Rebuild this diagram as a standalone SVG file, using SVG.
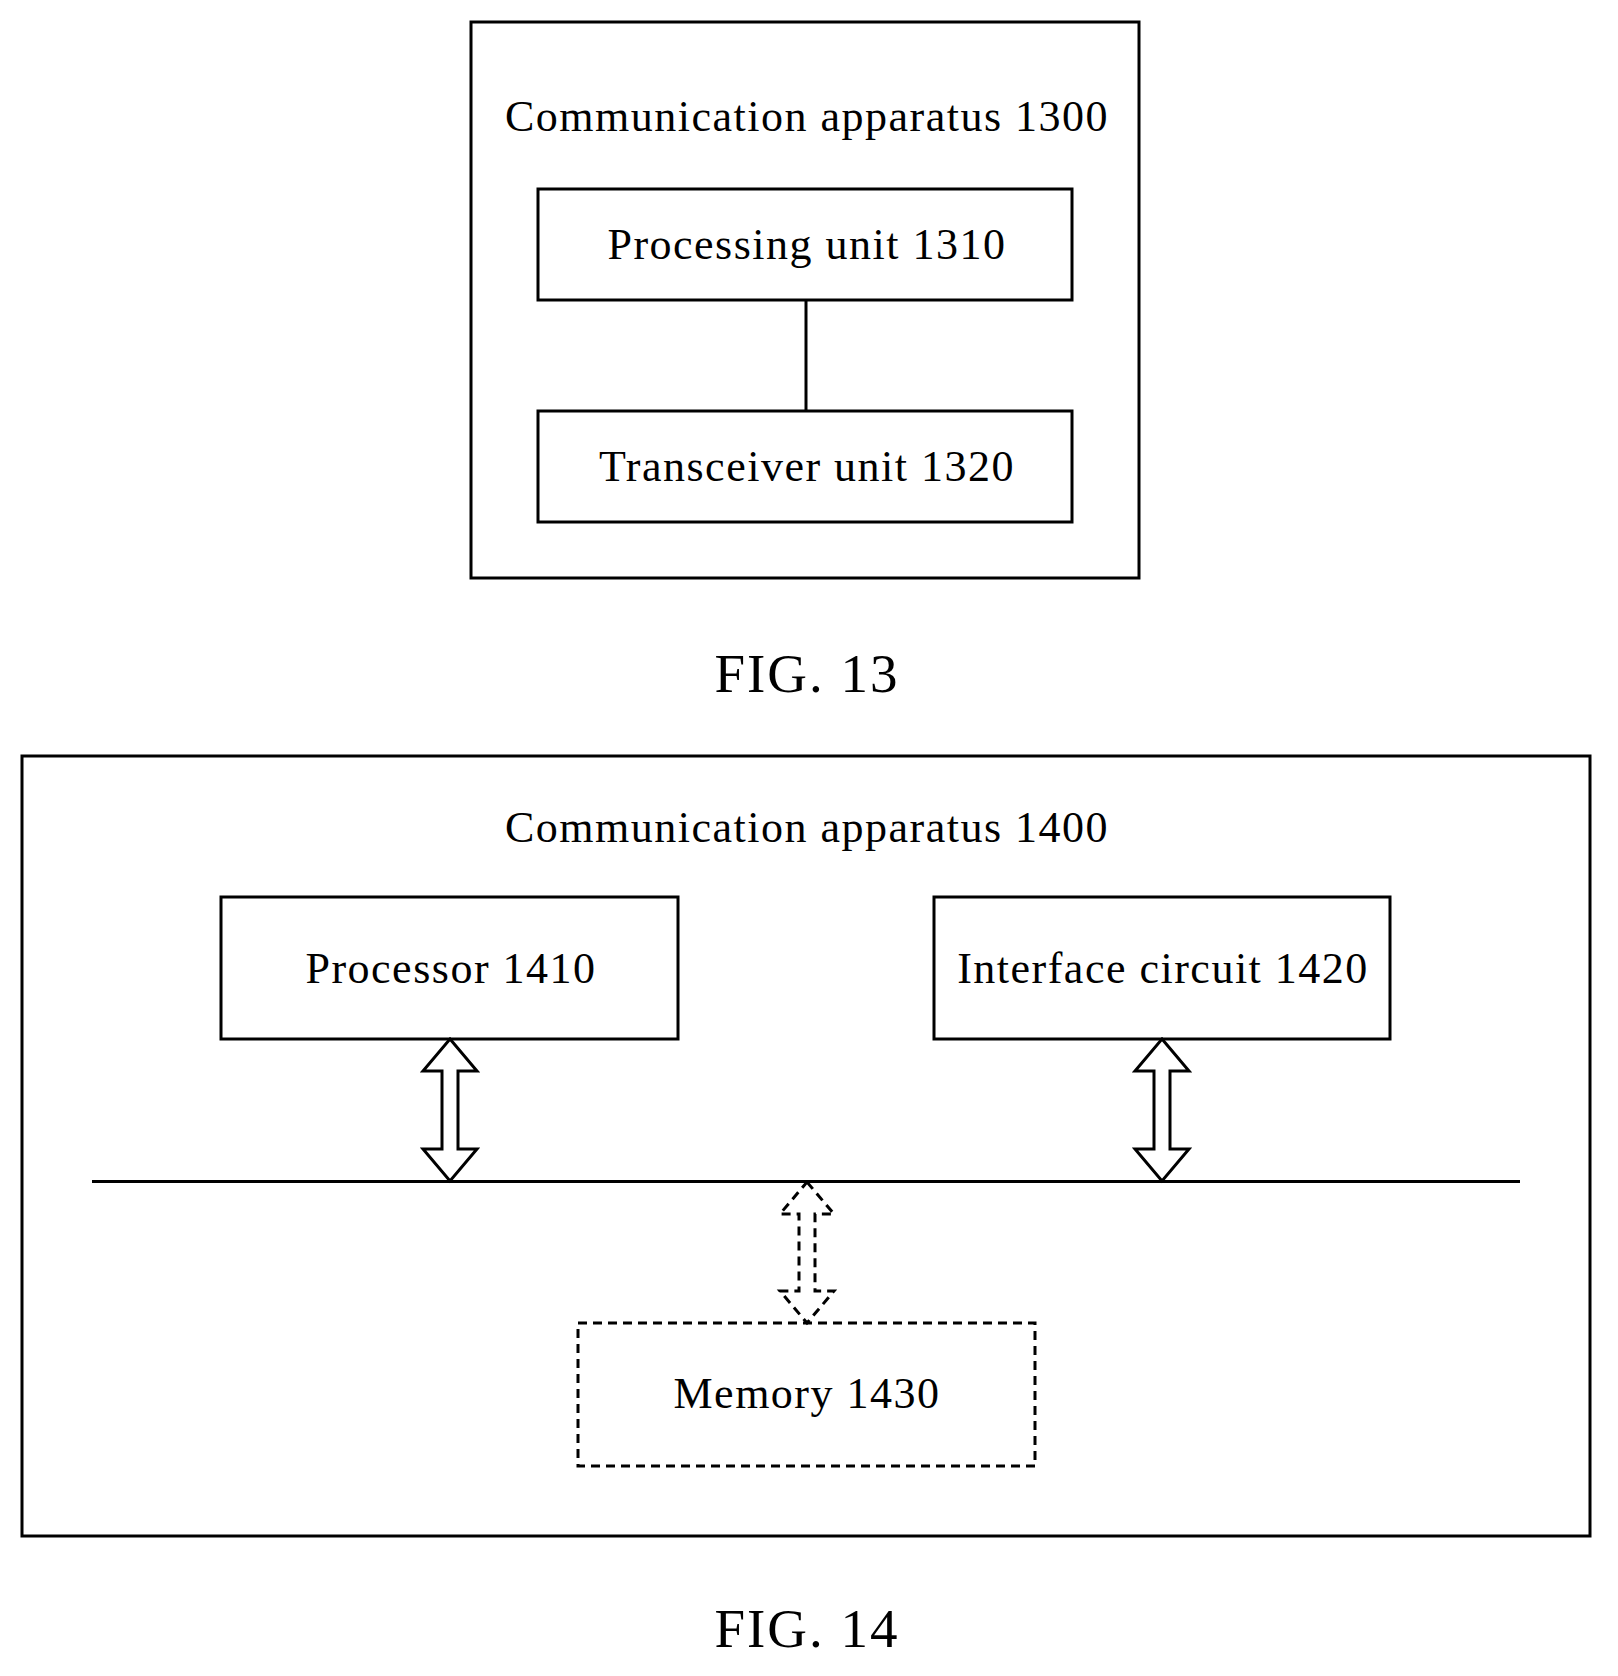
<svg xmlns="http://www.w3.org/2000/svg" width="1618" height="1676" viewBox="0 0 1618 1676">
<style>
.b{fill:none;stroke:#000;stroke-width:3}
.d{fill:none;stroke:#000;stroke-width:3;stroke-dasharray:9,6}
.t{font-family:"Liberation Serif",serif;font-size:44px;letter-spacing:1.5px;text-anchor:middle;fill:#000}
.f{font-family:"Liberation Serif",serif;font-size:55px;letter-spacing:2px;text-anchor:middle;fill:#000}
</style>
<rect width="1618" height="1676" fill="#fff"/>
<g id="apparatus1300"><rect class="b" x="471" y="22" width="668" height="556"/><text class="t" x="807" y="131">Communication apparatus 1300</text></g>
<g id="processing1310"><rect class="b" x="538" y="189" width="534" height="111"/><text class="t" x="807" y="259">Processing unit 1310</text></g>
<g id="transceiver1320"><rect class="b" x="538" y="411" width="534" height="111"/><text class="t" x="807" y="481">Transceiver unit 1320</text></g>
<text class="f" x="807" y="692">FIG. 13</text>
<g id="apparatus1400"><rect class="b" x="22" y="756" width="1568" height="780"/><text class="t" x="807" y="842">Communication apparatus 1400</text></g>
<g id="processor1410"><rect class="b" x="221" y="897" width="457" height="142"/><text class="t" x="451" y="983">Processor 1410</text></g>
<g id="interface1420"><rect class="b" x="934" y="897" width="456" height="142"/><text class="t" x="1163" y="983">Interface circuit 1420</text></g>
<g id="memory1430"><rect class="d" x="578" y="1323" width="457" height="143"/><text class="t" x="807" y="1408">Memory 1430</text></g>
<text class="f" x="807" y="1647">FIG. 14</text>
<g id="connectors">
<line class="b" x1="806" y1="300" x2="806" y2="411"/>
<line class="b" x1="92" y1="1181.5" x2="1520" y2="1181.5"/>
<polygon class="b" points="450,1039 477,1071 458,1071 458,1149 477,1149 450,1181 423,1149 442,1149 442,1071 423,1071"/>
<polygon class="b" points="1162,1039 1189,1071 1170,1071 1170,1149 1189,1149 1162,1181 1135,1149 1154,1149 1154,1071 1135,1071"/>
<polygon class="d" points="807,1182 834,1214 815,1214 815,1291 834,1291 807,1323 780,1291 799,1291 799,1214 780,1214"/>
</g>
</svg>
